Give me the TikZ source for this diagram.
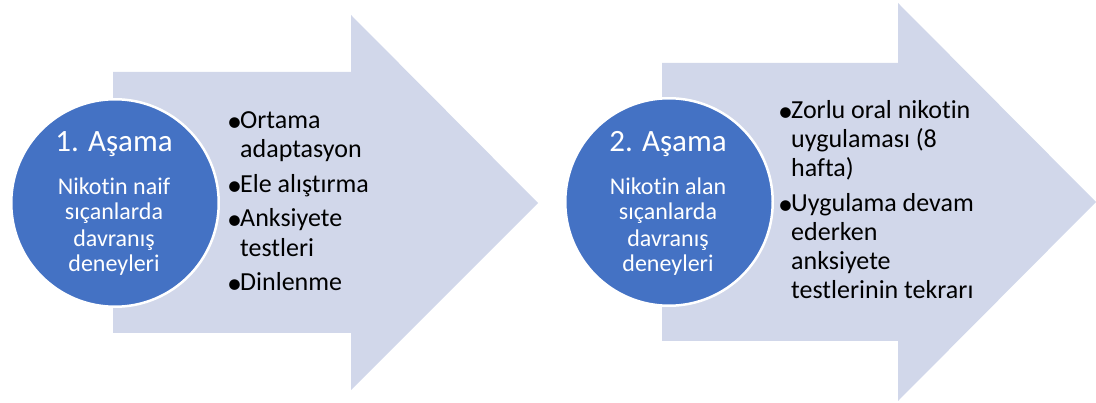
\documentclass[tikz,border=0pt]{standalone}
\usepackage{fontspec}
\setmainfont{Carlito}[Ligatures={NoCommon}]
\definecolor{arrowfill}{RGB}{209,215,234}
\definecolor{circblue}{RGB}{68,114,196}
\tikzset{
  bigarrow/.style={fill=arrowfill},
  phasecirc/.style={circle, fill=circblue, draw=white, line width=2.5pt, minimum size=207.5pt, inner sep=0pt},
  ctitle/.style={anchor=base, text=white, font=\fontsize{31}{37}\selectfont, inner sep=0pt},
  cbody/.style={anchor=base, text=white, font=\fontsize{24}{27}\selectfont, inner sep=0pt},
  bulletmark/.style={anchor=base west, font=\fontsize{30}{29}\selectfont, inner sep=0pt, yshift=-3pt},
  bline/.style={anchor=base west, font=\fontsize{26}{29}\selectfont, inner sep=0pt}
}
\begin{document}
\begin{tikzpicture}[x=1pt,y=-1pt]
\useasboundingbox (0,0) rectangle (1096,403);
% arrows
\fill[bigarrow] (113,72) -- (351,72) -- (351,15) -- (538,203) -- (351,390) -- (351,333) -- (113,333) -- cycle;
\fill[bigarrow] (662,63) -- (898,63) -- (898,3) -- (1096,202) -- (898,401) -- (898,341) -- (662,341) -- cycle;
% circles
\node[phasecirc] (c1) at (115,203) {};
\node[phasecirc] (c2) at (669,202) {};
% circle 1 text
\node[ctitle] (t1) at (114,152) {1. Aşama};
\node[cbody] (b11) at (114,195) {Nikotin naif};
\node[cbody] (b12) at (114,220) {sıçanlarda};
\node[cbody] (b13) at (114,247) {davranış};
\node[cbody] (b14) at (114,272) {deneyleri};
% circle 2 text
\node[ctitle] (t2) at (668,152) {2. Aşama};
\node[cbody] (b21) at (668,195) {Nikotin alan};
\node[cbody] (b22) at (668,220) {sıçanlarda};
\node[cbody] (b23) at (668,247) {davranış};
\node[cbody] (b24) at (668,272) {deneyleri};
% bullets left
\node[bulletmark] (m11) at (227,129) {•};
\node[bline] (l11) at (240,129) {Ortama};
\node[bline] (l12) at (240,158) {adaptasyon};
\node[bulletmark] (m12) at (227,193) {•};
\node[bline] (l13) at (240,193) {Ele alıştırma};
\node[bulletmark] (m13) at (227,227) {•};
\node[bline] (l14) at (240,227) {Anksiyete};
\node[bline] (l15) at (240,257) {testleri};
\node[bulletmark] (m14) at (227,291) {•};
\node[bline] (l16) at (240,291) {Dinlenme};
% bullets right
\node[bulletmark] (m21) at (778,119) {•};
\node[bline] (r11) at (791,119) {Zorlu oral nikotin};
\node[bline] (r12) at (791,148) {uygulaması (8};
\node[bline] (r13) at (791,177) {hafta)};
\node[bulletmark] (m22) at (778,212) {•};
\node[bline] (r14) at (791,212) {Uygulama devam};
\node[bline] (r15) at (791,241) {ederken};
\node[bline] (r16) at (791,270) {anksiyete};
\node[bline] (r17) at (791,299) {testlerinin tekrarı};
\end{tikzpicture}
\end{document}
